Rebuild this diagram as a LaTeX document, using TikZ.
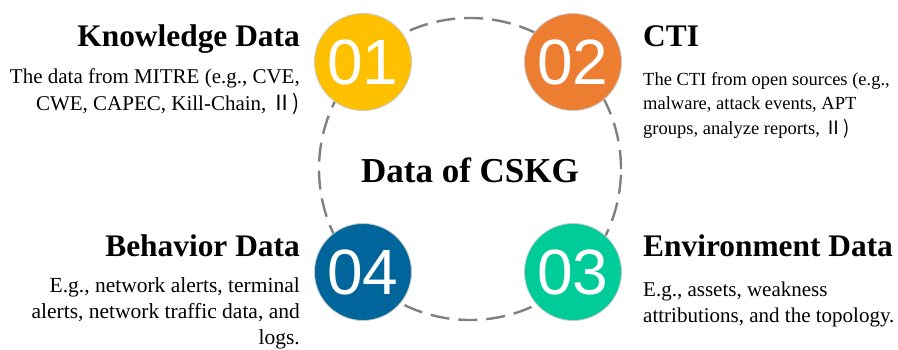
\documentclass[tikz,border=0pt]{standalone}
\usepackage{fontspec}
\setmainfont{Liberation Serif}
\newfontfamily\numfont{Liberation Sans}
\newfontfamily\cjk{Noto Sans CJK SC}
\definecolor{cyellow}{HTML}{FFC000}
\definecolor{corange}{HTML}{ED7D31}
\definecolor{cblue}{HTML}{00659A}
\definecolor{cgreen}{HTML}{00CC99}
\definecolor{dgray}{HTML}{808080}
\definecolor{rimgray}{HTML}{C8C8C8}
\begin{document}
\begin{tikzpicture}[x=1pt,y=-1pt,
  ringstyle/.style={circle, draw=dgray, dash pattern=on 19pt off 9pt, line width=2.4pt, minimum size=302pt, inner sep=0pt},
  num/.style={circle, minimum size=97pt, inner sep=0pt, draw=rimgray, line width=0.8pt, text=white, font=\numfont\fontsize{64}{64}\selectfont},
  ttl/.style={inner sep=0pt, font=\bfseries\fontsize{31.4}{36}\selectfont},
  body/.style={inner sep=0pt, font=\fontsize{21.5}{26}\selectfont},
]
\useasboundingbox (0,0) rectangle (898,349);
\node[ringstyle] (ring) at (470,169) {};
\node[inner sep=0pt, font=\bfseries\fontsize{35}{40}\selectfont] (center) at (470,170) {Data of CSKG};
\node[num, fill=cyellow] (n1) at (363,62) {01};
\node[num, fill=corange] (n2) at (573,62) {02};
\node[num, fill=cgreen] (n3) at (573,272) {03};
\node[num, fill=cblue] (n4) at (363,272) {04};
% titles
\node[ttl, anchor=base east] (t1) at (300,46) {Knowledge Data};
\node[ttl, anchor=base west] (t2) at (643,46) {CTI};
\node[ttl, anchor=base west] (t3) at (643,256) {Environment Data};
\node[ttl, anchor=base east] (t4) at (300,256) {Behavior Data};
% bodies (anchor base = last line's baseline)
\node[body, align=right, anchor=base east, font=\fontsize{21}{27}\selectfont] (b1) at (300,110) {The data from MITRE (e.g., CVE,\\CWE, CAPEC, Kill-Chain, \cjk{Ⅱ})};
\node[body, align=left, anchor=base west, font=\fontsize{18.5}{24.5}\selectfont] (b2) at (643,134) {The CTI from open sources (e.g.,\\malware, attack events, APT\\groups, analyze reports, \cjk{Ⅱ})};
\node[body, align=left, anchor=base west, font=\fontsize{21}{25.5}\selectfont] (b3) at (643,322) {E.g., assets, weakness\\attributions, and the topology.};
\node[body, align=right, anchor=base east] (b4) at (300,344) {E.g., network alerts, terminal\\alerts, network traffic data, and\\logs.};
\end{tikzpicture}
\end{document}
